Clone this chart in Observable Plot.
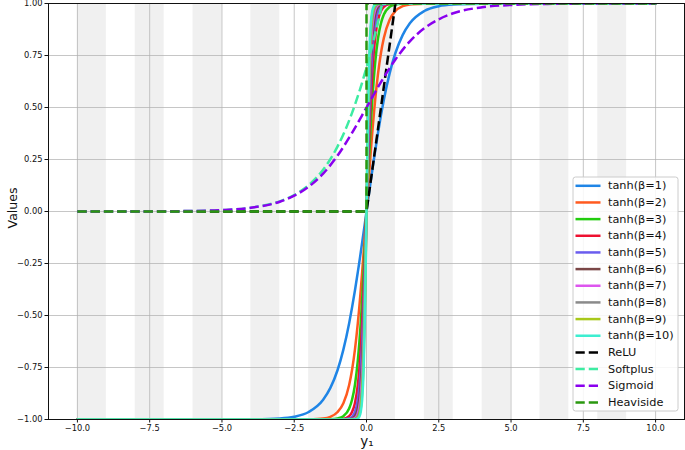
<!DOCTYPE html>
<html><head><meta charset="utf-8">
<script src="https://cdn.jsdelivr.net/npm/d3@7"></script>
<script src="https://cdn.jsdelivr.net/npm/@observablehq/plot@0.6"></script>
<style>body{margin:0;background:#fff}#chart svg{display:block}</style>
</head><body><div id="chart"></div>
<script>
// ---- data ----
const xs = [-10,-5,-4,-3,-2.5,-2,-1.5,-1.25,-1,-0.8,-0.6,-0.5,-0.4,-0.3,-0.25,-0.2,-0.15,-0.1,-0.05,
            0,0.05,0.1,0.15,0.2,0.25,0.3,0.4,0.5,0.6,0.8,1,1.25,1.5,2,2.5,3,4,5,10];
const tanh1 = [-1,-1,-0.999,-0.995,-0.987,-0.964,-0.905,-0.848,-0.762,-0.664,-0.537,-0.462,-0.380,-0.291,-0.245,-0.197,-0.149,-0.100,-0.050,
               0,0.050,0.100,0.149,0.197,0.245,0.291,0.380,0.462,0.537,0.664,0.762,0.848,0.905,0.964,0.987,0.995,0.999,1,1];
const tanh2 = [-1,-1,-1,-1,-1,-0.999,-0.995,-0.987,-0.964,-0.922,-0.834,-0.762,-0.664,-0.537,-0.462,-0.380,-0.291,-0.197,-0.100,
               0,0.100,0.197,0.291,0.380,0.462,0.537,0.664,0.762,0.834,0.922,0.964,0.987,0.995,0.999,1,1,1,1,1];
const tanh3 = [-1,-1,-1,-1,-1,-1,-1,-0.999,-0.995,-0.984,-0.947,-0.905,-0.834,-0.716,-0.635,-0.537,-0.422,-0.291,-0.149,
               0,0.149,0.291,0.422,0.537,0.635,0.716,0.834,0.905,0.947,0.984,0.995,0.999,1,1,1,1,1,1,1];
const tanh4 = [-1,-1,-1,-1,-1,-1,-1,-1,-0.999,-0.997,-0.984,-0.964,-0.922,-0.834,-0.762,-0.664,-0.537,-0.380,-0.197,
               0,0.197,0.380,0.537,0.664,0.762,0.834,0.922,0.964,0.984,0.997,0.999,1,1,1,1,1,1,1,1];
const tanh5 = [-1,-1,-1,-1,-1,-1,-1,-1,-1,-0.999,-0.995,-0.987,-0.964,-0.905,-0.848,-0.762,-0.635,-0.462,-0.245,
               0,0.245,0.462,0.635,0.762,0.848,0.905,0.964,0.987,0.995,0.999,1,1,1,1,1,1,1,1,1];
const tanh6 = [-1,-1,-1,-1,-1,-1,-1,-1,-1,-1,-0.999,-0.995,-0.984,-0.947,-0.905,-0.834,-0.716,-0.537,-0.291,
               0,0.291,0.537,0.716,0.834,0.905,0.947,0.984,0.995,0.999,1,1,1,1,1,1,1,1,1,1];
const tanh7 = [-1,-1,-1,-1,-1,-1,-1,-1,-1,-1,-1,-0.998,-0.993,-0.970,-0.941,-0.885,-0.782,-0.604,-0.336,
               0,0.336,0.604,0.782,0.885,0.941,0.970,0.993,0.998,1,1,1,1,1,1,1,1,1,1,1];
const tanh8 = [-1,-1,-1,-1,-1,-1,-1,-1,-1,-1,-1,-0.999,-0.997,-0.984,-0.964,-0.922,-0.834,-0.664,-0.380,
               0,0.380,0.664,0.834,0.922,0.964,0.984,0.997,0.999,1,1,1,1,1,1,1,1,1,1,1];
const tanh9 = [-1,-1,-1,-1,-1,-1,-1,-1,-1,-1,-1,-1,-0.999,-0.991,-0.978,-0.947,-0.874,-0.716,-0.422,
               0,0.422,0.716,0.874,0.947,0.978,0.991,0.999,1,1,1,1,1,1,1,1,1,1,1,1];
const tanh10 = [-1,-1,-1,-1,-1,-1,-1,-1,-1,-1,-1,-1,-0.999,-0.995,-0.987,-0.964,-0.905,-0.762,-0.462,
                0,0.462,0.762,0.905,0.964,0.987,0.995,0.999,1,1,1,1,1,1,1,1,1,1,1,1];

const reluX = [-10, 0, 1, 10];
const reluY = [0, 0, 1, 10];
const softplusX = [-10,-8,-6,-5,-4,-3,-2.5,-2,-1.5,-1,-0.5,0,0.25,0.5,0.75,1,10];
const softplusY = [0.0000,0.0003,0.0025,0.0067,0.018,0.049,0.079,0.127,0.201,0.313,0.474,0.693,0.826,0.974,1.137,1.313,10];
const sigmoidX = [-10,-8,-6,-5,-4,-3,-2.5,-2,-1.5,-1,-0.5,0,0.5,1,1.5,2,2.5,3,4,5,6,8,10];
const sigmoidY = [0.0000,0.0003,0.0025,0.0067,0.018,0.047,0.076,0.119,0.182,0.269,0.378,0.5,0.622,0.731,0.818,0.881,0.924,0.953,0.982,0.993,0.9975,0.9997,1.0];
const heavisideX = [-10, 0, 0, 10];
const heavisideY = [0, 0, 1, 1];

const tanhLabels = ["tanh(β=1)","tanh(β=2)","tanh(β=3)","tanh(β=4)","tanh(β=5)","tanh(β=6)","tanh(β=7)","tanh(β=8)","tanh(β=9)","tanh(β=10)"];
const tanhColors = ["#1f85e6","#ff5a1f","#22cc0e","#ee1030","#6a5cee","#7a4646","#dd55ee","#8a8a8a","#a8c81a","#3deed0"];
const dashLabels = ["ReLU","Softplus","Sigmoid","Heaviside"];
const dashColors = ["#000000","#3deca2","#8a00ee","#2a980f"];

const bandStarts = [-10,-8,-6,-4,-2,0,2,4,6,8];
const xTicks = [-10,-7.5,-5,-2.5,0,2.5,5,7.5,10];
const yTicks = [-1,-0.75,-0.5,-0.25,0,0.25,0.5,0.75,1];
const xDomain = [-11, 11];
const yDomain = [-1, 1];

// ---- build tables ----
const tanhSeries = [tanh1,tanh2,tanh3,tanh4,tanh5,tanh6,tanh7,tanh8,tanh9,tanh10];
const tanhRows = tanhSeries.map(arr => arr.map((y, j) => ({x: xs[j], y})));
const dashRows = [
  reluX.map((x,i)=>({x, y: reluY[i]})),
  softplusX.map((x,i)=>({x, y: softplusY[i]})),
  sigmoidX.map((x,i)=>({x, y: sigmoidY[i]})),
  heavisideX.map((x,i)=>({x, y: heavisideY[i]}))
];
const dashCurves = ["linear","monotone-x","monotone-x","linear"];
const DASH = "9.25,4";

const marks = [
  Plot.rect(bandStarts, {x1: d => d, x2: d => d + 1, y1: yDomain[0], y2: yDomain[1], fill: "#f0f0f0"}),
  Plot.gridX(xTicks, {stroke: "#b0b0b0", strokeOpacity: 0.9, strokeWidth: 0.8}),
  Plot.gridY(yTicks, {stroke: "#b0b0b0", strokeOpacity: 0.9, strokeWidth: 0.8}),
  ...tanhRows.map((rows, i) => Plot.line(rows, {x: "x", y: "y", stroke: tanhColors[i], strokeWidth: 2.5, curve: "monotone-x", clip: true})),
  ...dashRows.map((rows, i) => Plot.line(rows, {x: "x", y: "y", stroke: dashColors[i], strokeWidth: 2.5, strokeDasharray: DASH, curve: dashCurves[i], clip: true, strokeLinecap: "butt"})),
  Plot.frame({stroke: "#111", strokeWidth: 1}),
  Plot.axisX(xTicks, {tickFormat: d3.format(".1f"), tickSize: 3.5, tickPadding: 2, label: null}),
  Plot.axisY(yTicks, {tickFormat: d3.format(".2f"), tickSize: 3.5, tickPadding: 2.5, label: null})
];

const svg = Plot.plot({
  width: 685, height: 450,
  marginLeft: 48, marginRight: 1, marginTop: 3, marginBottom: 31,
  x: {domain: xDomain},
  y: {domain: yDomain},
  style: {fontFamily: "'DejaVu Sans', sans-serif", fontSize: "8.3px", color: "#111", background: "#fff"},
  marks
});
document.getElementById("chart").appendChild(svg);

// ---- axis titles and legend ----
const s = d3.select(svg);
const F = "'DejaVu Sans', sans-serif";
s.append("text").attr("transform", "translate(12.5,208) rotate(-90)")
  .attr("text-anchor", "middle").attr("dominant-baseline", "central")
  .attr("font-family", F).attr("font-size", 12.5).attr("fill", "#111").text("Values");
s.append("text").attr("x", 367).attr("y", 446)
  .attr("text-anchor", "middle").attr("font-family", F).attr("font-size", 13.5).attr("fill", "#111").text("y₁");

const leg = s.append("g");
leg.append("rect").attr("x", 573).attr("y", 177).attr("width", 105).attr("height", 234).attr("rx", 2.5)
  .attr("fill", "#fff").attr("fill-opacity", 0.85).attr("stroke", "#cccccc").attr("stroke-width", 1);
const labels = [...tanhLabels, ...dashLabels];
const colors = [...tanhColors, ...dashColors];
labels.forEach((lab, i) => {
  const y = 185.8 + i * 16.66;
  leg.append("line").attr("x1", 575.5).attr("x2", 600.5).attr("y1", y).attr("y2", y)
    .attr("stroke", colors[i]).attr("stroke-width", 2.5)
    .attr("stroke-dasharray", i >= 10 ? DASH : null);
  leg.append("text").attr("x", 608).attr("y", y).attr("dominant-baseline", "central")
    .attr("text-anchor", "start")
    .attr("font-family", F).attr("font-size", 11.3).attr("fill", "#111").text(lab);
});
</script>
</body></html>
